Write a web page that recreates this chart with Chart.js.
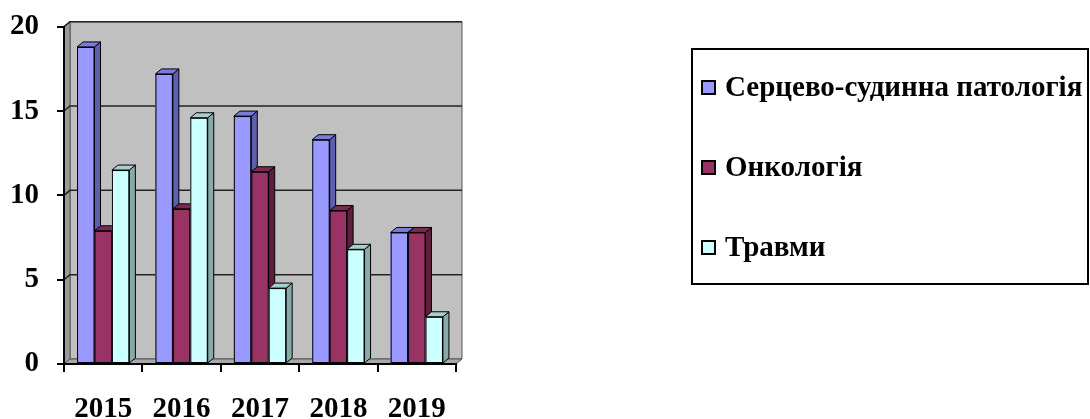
<!DOCTYPE html>
<html>
<head>
<meta charset="utf-8">
<script src="https://cdn.jsdelivr.net/npm/chart.js@4.4.1/dist/chart.umd.min.js"></script>
<style>
  html, body { margin: 0; padding: 0; background: #ffffff; }
  #wrap { width: 1090px; height: 419px; position: relative; }
</style>
</head>
<body>
<div id="wrap"><canvas id="c"></canvas></div>
<script>
// ---- data ----
const categories = ['2015', '2016', '2017', '2018', '2019'];
const seriesNames = ['Серцево-судинна патологія', 'Онкологія', 'Травми'];
const cardio = [18.8, 17.2, 14.7, 13.3, 7.8];
const onco   = [7.9, 9.2, 11.4, 9.1, 7.8];
const trauma = [11.5, 14.6, 4.5, 6.8, 2.8];
const yTicks = [0, 5, 10, 15, 20];

// ---- styles ----
const frontColors = ['#9999FF', '#993366', '#CCFFFF'];
const topColors   = ['#7B7BDD', '#7A2952', '#A6CFCD'];
const sideColors  = ['#5F5FAF', '#5E1F3F', '#86ABA9'];
const FONT = '"Liberation Serif", "Times New Roman", serif';
const FSIZE = 29;
const DX = 6, DY = 5;

function poly(ctx, pts, fill) {
  ctx.beginPath();
  ctx.moveTo(pts[0][0], pts[0][1]);
  for (let i = 1; i < pts.length; i++) ctx.lineTo(pts[i][0], pts[i][1]);
  ctx.closePath();
  ctx.fillStyle = fill;
  ctx.fill();
  ctx.stroke();
}

const wallsPlugin = {
  id: 'walls',
  beforeDraw(chart) {
    const ctx = chart.ctx;
    const a = chart.chartArea;
    const ys = chart.scales.y;
    const L = a.left, R = a.right, T = a.top, B = a.bottom;
    ctx.save();
    ctx.lineWidth = 1;
    ctx.strokeStyle = '#555555';
    poly(ctx, [[L + DX, T - DY], [R + DX, T - DY], [R + DX, B - DY], [L + DX, B - DY]], '#C0C0C0');
    poly(ctx, [[L, T], [L + DX, T - DY], [L + DX, B - DY], [L, B]], '#9A9A9A');
    poly(ctx, [[L, B], [L + DX, B - DY], [R + DX, B - DY], [R, B]], '#A8A8A8');
    ctx.strokeStyle = '#222222';
    ctx.lineWidth = 1.5;
    yTicks.forEach(v => {
      if (v === 0) return;
      const py = ys.getPixelForValue(v);
      ctx.beginPath();
      ctx.moveTo(L, py);
      ctx.lineTo(L + DX, py - DY);
      ctx.lineTo(R + DX, py - DY);
      ctx.stroke();
    });
    ctx.restore();
  }
};

// Redraw bars series by series (left to right in each group) so that the
// depth faces of one bar are correctly covered by the next bar's front face.
const depthPlugin = {
  id: 'depth',
  afterDatasetsDraw(chart) {
    const ctx = chart.ctx;
    ctx.save();
    chart.data.datasets.forEach((ds, idx) => {
      const meta = chart.getDatasetMeta(idx);
      meta.data.forEach(bar => {
        bar.draw(ctx);
        const p = bar.getProps(['x', 'y', 'base', 'width'], true);
        const l = p.x - p.width / 2, r = p.x + p.width / 2, t = p.y, b = p.base;
        ctx.lineWidth = 1;
        ctx.strokeStyle = '#000000';
        poly(ctx, [[r, t], [r + DX, t - DY], [r + DX, b - DY], [r, b]], sideColors[idx]);
        poly(ctx, [[l, t], [r, t], [r + DX, t - DY], [l + DX, t - DY]], topColors[idx]);
        ctx.strokeRect(l + 0.5, t + 0.5, p.width - 1, b - t - 1);
      });
    });
    ctx.restore();
  }
};

const legendPlugin = {
  id: 'boxLegend',
  afterDraw(chart) {
    const ctx = chart.ctx;
    ctx.save();
    ctx.strokeStyle = '#000000';
    ctx.lineWidth = 2;
    ctx.strokeRect(692, 49, 396, 235);
    ctx.font = 'bold ' + FSIZE + 'px ' + FONT;
    ctx.textBaseline = 'middle';
    ctx.textAlign = 'left';
    chart.data.datasets.forEach((ds, i) => {
      const cy = 88 + 80 * i;
      ctx.fillStyle = ds.backgroundColor;
      ctx.fillRect(702, cy - 7, 13, 13);
      ctx.lineWidth = 2;
      ctx.strokeRect(702, cy - 7, 13, 13);
      ctx.fillStyle = '#000000';
      ctx.fillText(ds.label, 725, cy + 1);
    });
    ctx.restore();
  }
};

const seriesValues = [cardio, onco, trauma];
const datasets = seriesNames.map((name, i) => ({
  label: name,
  data: seriesValues[i],
  backgroundColor: frontColors[i],
  borderColor: '#000000',
  borderWidth: 0,
  categoryPercentage: 0.667,
  barPercentage: 1.0
}));

new Chart(document.getElementById('c'), {
  type: 'bar',
  data: { labels: categories, datasets },
  options: {
    responsive: true,
    maintainAspectRatio: false,
    animation: false,
    layout: { padding: { left: 0, top: 24, right: 634, bottom: 0 } },
    plugins: { legend: { display: false }, tooltip: { enabled: false } },
    scales: {
      x: {
        offset: true,
        grid: { display: true, drawOnChartArea: false, drawTicks: true, tickLength: 8, color: '#000000', lineWidth: 2, offset: true },
        border: { display: true, color: '#000000', width: 2 },
        ticks: { color: '#000000', padding: 20, font: { family: FONT, size: FSIZE, weight: 'bold' } },
        afterFit(scale) { scale.height = 55; }
      },
      y: {
        min: 0, max: 20,
        afterBuildTicks(scale) { scale.ticks = yTicks.map(v => ({ value: v })); },
        grid: { display: true, drawOnChartArea: false, drawTicks: true, tickLength: 7, color: '#000000', lineWidth: 2 },
        border: { display: true, color: '#000000', width: 2 },
        ticks: { color: '#000000', padding: 18, font: { family: FONT, size: FSIZE, weight: 'bold', lineHeight: 0.6 } },
        afterFit(scale) { scale.width = 64; }
      }
    }
  },
  plugins: [wallsPlugin, depthPlugin, legendPlugin]
});
</script>
</body>
</html>
